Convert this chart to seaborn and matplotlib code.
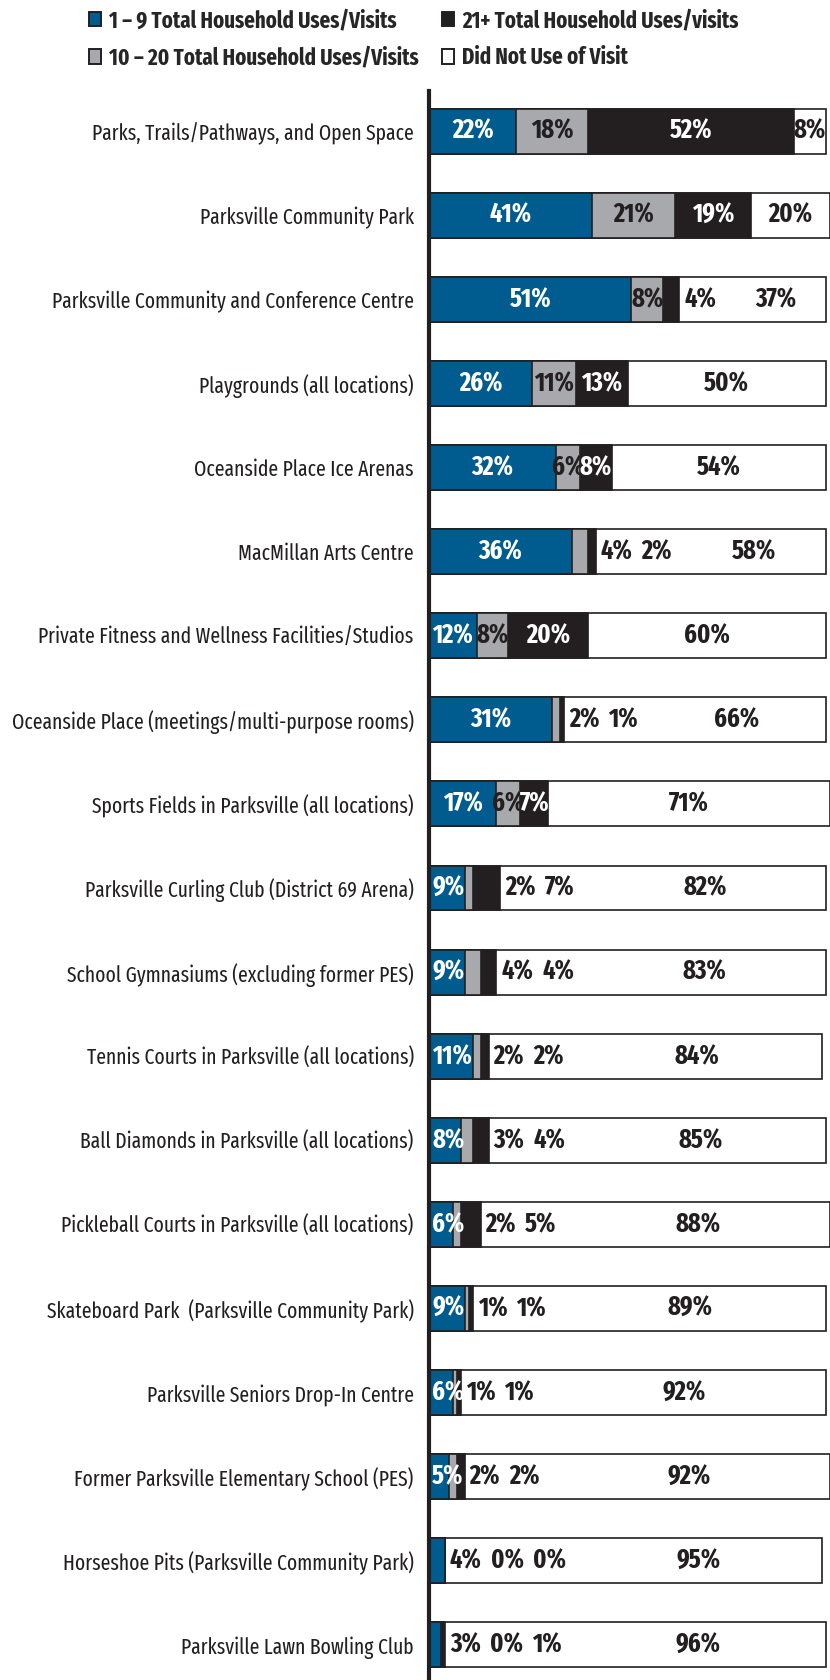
import numpy as np
import pandas as pd
import matplotlib
matplotlib.use("Agg")
import matplotlib.pyplot as plt
from matplotlib import font_manager as fm
import seaborn as sns
from matplotlib.patches import Patch

categories = [
    "Parks, Trails/Pathways, and Open Space",
    "Parksville Community Park",
    "Parksville Community and Conference Centre",
    "Playgrounds (all locations)",
    "Oceanside Place Ice Arenas",
    "MacMillan Arts Centre",
    "Private Fitness and Wellness Facilities/Studios",
    "Oceanside Place (meetings/multi-purpose rooms)",
    "Sports Fields in Parksville (all locations)",
    "Parksville Curling Club (District 69 Arena)",
    "School Gymnasiums (excluding former PES)",
    "Tennis Courts in Parksville (all locations)",
    "Ball Diamonds in Parksville (all locations)",
    "Pickleball Courts in Parksville (all locations)",
    "Skateboard Park  (Parksville Community Park)",
    "Parksville Seniors Drop-In Centre",
    "Former Parksville Elementary School (PES)",
    "Horseshoe Pits (Parksville Community Park)",
    "Parksville Lawn Bowling Club",
]
uses_1_9 = [22, 41, 51, 26, 32, 36, 12, 31, 17, 9, 9, 11, 8, 6, 9, 6, 5, 4, 3]
uses_10_20 = [18, 21, 8, 11, 6, 4, 8, 2, 6, 2, 4, 2, 3, 2, 1, 1, 2, 0, 0]
uses_21_plus = [52, 19, 4, 13, 8, 2, 20, 1, 7, 7, 4, 2, 4, 5, 1, 1, 2, 0, 1]
did_not_use = [8, 20, 37, 50, 54, 58, 60, 66, 71, 82, 83, 84, 85, 88, 89, 92, 92, 95, 96]
series_names = [
    "1 \u2013 9 Total Household Uses/Visits",
    "10 \u2013 20 Total Household Uses/Visits",
    "21+ Total Household Uses/visits",
    "Did Not Use of Visit",
]

sns.set_theme(style="white")
prefs = ["Fira Sans Extra Condensed", "Fira Sans Condensed", "PT Sans Narrow",
         "Encode Sans Condensed", "Roboto Condensed", "Archivo Narrow",
         "Liberation Sans Narrow"]
avail = {f.name for f in fm.fontManager.ttflist}
main = next((n for n in prefs if n in avail), "DejaVu Sans")
FAM = [main, "DejaVu Sans"]
plt.rcParams["font.family"] = FAM

colors = ["#005B8E", "#A7A9AC", "#231F20", "#FFFFFF"]
text_colors = ["white", "#231F20", "white", "#231F20"]
DARK = "#231F20"

W, H = 830, 1680
fig = plt.figure(figsize=(W / 100, H / 100), dpi=100)
renderer = fig.canvas.get_renderer()


def fit(text, target_px, weight, base=20.0):
    t = fig.text(0, 0, text, fontsize=base, family=FAM, weight=weight)
    w = t.get_window_extent(renderer).width
    t.remove()
    return base * target_px / w


cat_size = min(fit("Oceanside Place (meetings/multi-purpose rooms)", 401, "normal"), 17.5)
val_size = min(fit("22%", 43, "bold"), 19)
leg_size = min(fit(series_names[1], 310, "bold"), 20)

ax_left_px, ax_top_px = 429, 91
ax = fig.add_axes([ax_left_px / W, 0, 1 - ax_left_px / W, 1 - ax_top_px / H])

vals = np.array([uses_1_9, uses_10_20, uses_21_plus, did_not_use], dtype=float)
cum = vals.cumsum(axis=0)

for k in reversed(range(4)):
    sns.barplot(x=cum[k], y=categories, orient="h", color=colors[k], saturation=1,
                width=0.535, edgecolor=DARK, linewidth=1.2, errorbar=None, ax=ax)

px_per_unit = (826 - 429) / 100
ax.set_xlim(0, (W - ax_left_px) / px_per_unit)
row_px = 84.1
ax.set_ylim(18 + (H - 1645) / row_px, -(131 - ax_top_px) / row_px)
ax.set_xlabel("")
ax.set_ylabel("")
ax.set_xticks([])
for s in ["top", "right", "bottom"]:
    ax.spines[s].set_visible(False)
ax.spines["left"].set_linewidth(3)
ax.spines["left"].set_color(DARK)
ax.tick_params(axis="y", length=0, pad=11, labelsize=cat_size, labelcolor=DARK)
for t in ax.get_yticklabels():
    t.set_fontfamily(FAM)

# value labels
fig.canvas.draw()
LBL = dict(fontsize=val_size, fontweight="bold", va="center", family=FAM)
inv = ax.transData.inverted()
bar_left_px = ax.transData.transform((0, 0))[0] + 3
for i in range(len(categories)):
    outside = []
    flag = False
    for k in range(3):
        if vals[k, i] < 5 or flag:
            flag = True
            outside.append(k)
        else:
            t = ax.text(cum[k, i] - vals[k, i] / 2, i, f"{int(vals[k, i])}%", ha="center",
                        color=text_colors[k], **LBL)
            bb = t.get_window_extent(renderer)
            if bb.x0 < bar_left_px:
                t.set_ha("left")
                t.set_x(inv.transform((bar_left_px, 0))[0])
    white_start_px = ax.transData.transform((cum[2, i], i))[0]
    right_px = ax.transData.transform((cum[3, i], i))[0]
    cursor = white_start_px + 5
    for k in outside:
        xd = inv.transform((cursor, 0))[0]
        t = ax.text(xd, i, f"{int(vals[k, i])}%", ha="left", color=DARK, **LBL)
        bb = t.get_window_extent(renderer)
        cursor = bb.x1 + 9
    if not outside:
        cursor = white_start_px
    xc = inv.transform(((cursor + right_px) / 2, 0))[0]
    ax.text(xc, i, f"{int(vals[3, i])}%", ha="center", color=DARK, **LBL)

handles = [Patch(facecolor=colors[k], edgecolor=DARK, linewidth=1.4) for k in range(4)]
fig.legend(handles, series_names, loc="upper left", bbox_to_anchor=(89 / W, 1 - 9 / H),
           ncol=2, frameon=False, handlelength=0.55, handleheight=0.6, handletextpad=0.35,
           columnspacing=1.0, labelspacing=0.62, borderpad=0, borderaxespad=0,
           prop=dict(family=FAM, weight="bold", size=leg_size))

fig.savefig("out.png", dpi=100)
